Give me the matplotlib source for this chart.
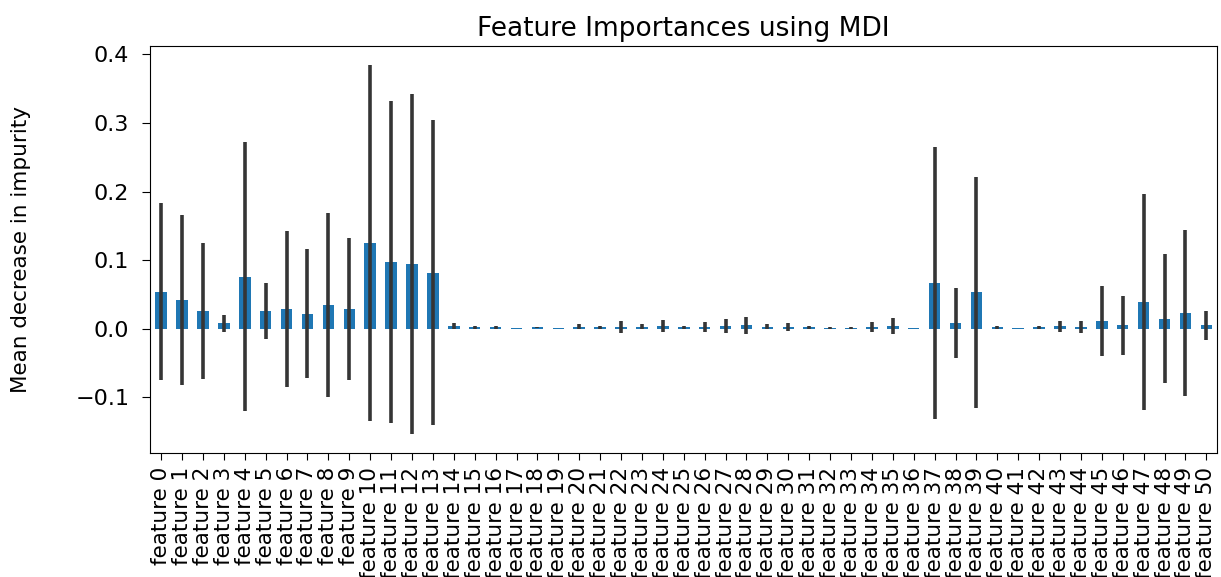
import matplotlib
matplotlib.use("Agg")
import matplotlib.pyplot as plt
import pandas as pd

# MDI importances (mean) and their std across trees
feature_names = [f"feature {i}" for i in range(51)]
importances = [
    0.054, 0.042, 0.026, 0.008, 0.076, 0.026, 0.029, 0.022, 0.035, 0.029,
    0.125, 0.097, 0.094, 0.082, 0.004, 0.002, 0.002, 0.001, 0.002, 0.001,
    0.003, 0.002, 0.003, 0.003, 0.004, 0.002, 0.003, 0.004, 0.005, 0.003,
    0.003, 0.002, 0.001, 0.001, 0.003, 0.004, 0.001, 0.067, 0.008, 0.053,
    0.002, 0.001, 0.002, 0.004, 0.003, 0.012, 0.005, 0.039, 0.015, 0.023,
    0.005,
]
std = [
    0.129, 0.124, 0.099, 0.012, 0.196, 0.041, 0.114, 0.094, 0.134, 0.103,
    0.260, 0.235, 0.248, 0.222, 0.005, 0.002, 0.002, 0.000, 0.001, 0.000,
    0.004, 0.002, 0.009, 0.004, 0.009, 0.002, 0.007, 0.010, 0.012, 0.004,
    0.006, 0.002, 0.001, 0.001, 0.007, 0.012, 0.000, 0.198, 0.051, 0.168,
    0.002, 0.000, 0.002, 0.008, 0.009, 0.051, 0.043, 0.158, 0.094, 0.121,
    0.021,
]

forest_importances = pd.Series(importances, index=feature_names)

fig = plt.figure(figsize=(12.21, 5.77), dpi=100)
ax = fig.add_axes([0.123, 0.215, 0.874, 0.705])

forest_importances.plot.bar(yerr=std, ax=ax, color="#1f77b4", width=0.55,
                            error_kw=dict(ecolor="#353535", elinewidth=2.6))

ax.set_title("Feature Importances using MDI", fontsize=19, pad=7)
ax.set_ylabel("Mean decrease in impurity", fontsize=15.5)
ax.yaxis.set_label_coords(-0.112, 0.5)
ax.tick_params(axis="y", labelsize=16, length=6, pad=9)
ax.tick_params(axis="x", labelsize=15.5, length=5, pad=5)
ax.set_yticks([-0.1, 0.0, 0.1, 0.2, 0.3, 0.4])

fig.savefig("out.png", dpi=100)
